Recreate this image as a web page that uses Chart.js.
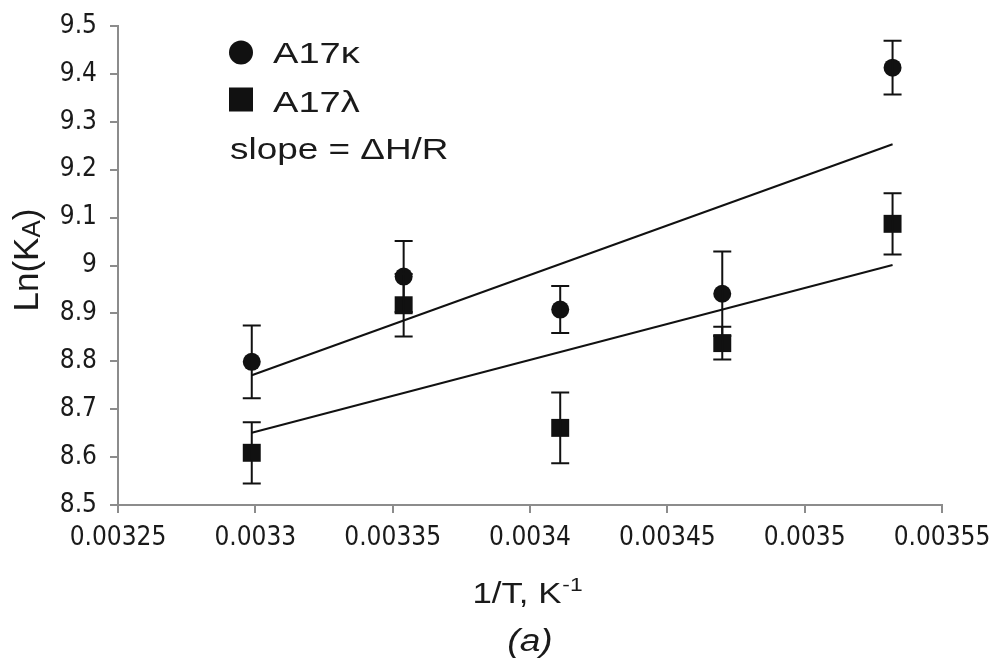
<!DOCTYPE html>
<html>
<head>
<meta charset="utf-8">
<script src="https://cdn.jsdelivr.net/npm/chart.js@4.4.1/dist/chart.umd.min.js"></script>
<style>
  html, body { margin: 0; background: #fff; }
  #wrap { width: 995px; height: 661px; }
</style>
</head>
<body>
<div id="wrap"><canvas id="myChart"></canvas></div>
<script>
// 1/T values (K^-1) for 30, 25, 20, 15, 10 °C
const X_VALUES = [0.0032987, 0.003354, 0.003411, 0.003470, 0.003532];
const KAPPA = [8.799, 8.977, 8.908, 8.941, 9.413];
const KAPPA_ERR = [0.076, 0.074, 0.049, 0.088, 0.056];
const LAMBDA = [8.609, 8.917, 8.661, 8.838, 9.087];
const LAMBDA_ERR = [0.064, 0.065, 0.074, 0.034, 0.064];
const FIT_X = [0.0032987, 0.003532];
const KAPPA_FIT = [8.771, 9.253];
const LAMBDA_FIT = [8.651, 9.001];
const X_TICKS = [0.00325, 0.0033, 0.00335, 0.0034, 0.00345, 0.0035, 0.00355];
const Y_TICKS = [8.5, 8.6, 8.7, 8.8, 8.9, 9, 9.1, 9.2, 9.3, 9.4, 9.5];

const INK = '#111';
const AXIS = '#8c8c8c';
const TEXT = '#1a1a1a';
const TICK_FONT = { family: '"DejaVu Sans Condensed", "DejaVu Sans"', size: 26, lineHeight: 1 };

function pts(xs, ys) {
  return xs.map((x, i) => ({ x: x, y: ys[i] }));
}

// text in the original is a bit wider than Arial, so stretch it sideways
function wideText(ctx, txt, x, y, sx) {
  ctx.save();
  ctx.translate(x, y);
  ctx.scale(sx, 1);
  ctx.fillText(txt, 0, 0);
  ctx.restore();
}

// error bars + legend + axis titles (sub/superscripts)
const extras = {
  id: 'extras',
  afterDatasetsDraw(chart) {
    const ctx = chart.ctx;
    const xs = chart.scales.x, ys = chart.scales.y;
    ctx.save();
    ctx.strokeStyle = INK;
    ctx.lineWidth = 2;
    chart.data.datasets.forEach(ds => {
      if (!ds.err) return;
      ds.data.forEach((p, i) => {
        const px = xs.getPixelForValue(p.x);
        const top = ys.getPixelForValue(p.y + ds.err[i]);
        const bot = ys.getPixelForValue(p.y - ds.err[i]);
        ctx.beginPath();
        ctx.moveTo(px, top); ctx.lineTo(px, bot);
        ctx.moveTo(px - 9, top); ctx.lineTo(px + 9, top);
        ctx.moveTo(px - 9, bot); ctx.lineTo(px + 9, bot);
        ctx.stroke();
      });
    });
    ctx.restore();
  },
  afterDraw(chart) {
    const ctx = chart.ctx;
    ctx.save();
    ctx.fillStyle = INK;
    // legend
    ctx.beginPath();
    ctx.arc(241, 52.5, 12, 0, Math.PI * 2);
    ctx.fill();
    ctx.fillRect(229, 87.5, 24, 24);
    ctx.fillStyle = TEXT;
    ctx.font = '30px "Liberation Sans"';
    ctx.textBaseline = 'alphabetic';
    ctx.textAlign = 'left';
    wideText(ctx, 'A17κ', 273, 63, 1.27);
    wideText(ctx, 'A17λ', 273, 112, 1.27);
    wideText(ctx, 'slope = ΔH/R', 230, 159, 1.23);

    // y title: Ln(KA) with subscript A
    const big = '35px "Liberation Sans"', small = '26px "Liberation Sans"';
    ctx.save();
    ctx.translate(38, 260);
    ctx.rotate(-Math.PI / 2);
    ctx.font = big;
    const w1 = ctx.measureText('Ln(K').width;
    const w3 = ctx.measureText(')').width;
    ctx.font = small;
    const w2 = ctx.measureText('A').width;
    let x0 = -(w1 + w2 + w3) / 2;
    ctx.font = big; ctx.fillText('Ln(K', x0, 0);
    ctx.font = small; ctx.fillText('A', x0 + w1, 2);
    ctx.font = big; ctx.fillText(')', x0 + w1 + w2, 0);
    ctx.restore();

    // x title: 1/T, K-1 with superscript
    const cx = 527;
    const sx = 1.2;
    const xb = '29px "Liberation Sans"', xsm = '19px "Liberation Sans"';
    ctx.font = xb;
    const a1 = ctx.measureText('1/T, K').width * sx;
    ctx.font = xsm;
    const a2 = ctx.measureText('-1').width * sx;
    const left = cx - (a1 + a2) / 2;
    ctx.font = xb; wideText(ctx, '1/T, K', left, 603, sx);
    ctx.font = xsm; wideText(ctx, '-1', left + a1 + 1, 591, sx);

    // panel caption
    ctx.font = 'italic 31px "Liberation Sans"';
    ctx.textAlign = 'center';
    wideText(ctx, '(a)', cx + 3, 651, 1.2);
    ctx.restore();
  }
};

const ctx = document.getElementById('myChart');

new Chart(ctx, {
  type: 'scatter',
  data: {
    datasets: [
      {
        label: 'A17κ',
        data: pts(X_VALUES, KAPPA),
        err: KAPPA_ERR,
        pointStyle: 'circle',
        pointRadius: 9,
        backgroundColor: INK,
        borderColor: INK,
        borderWidth: 0
      },
      {
        label: 'A17λ',
        data: pts(X_VALUES, LAMBDA),
        err: LAMBDA_ERR,
        pointStyle: 'rect',
        pointRadius: 12.7,
        backgroundColor: INK,
        borderColor: INK,
        borderWidth: 0
      },
      {
        label: 'fit κ',
        type: 'line',
        data: pts(FIT_X, KAPPA_FIT),
        borderColor: INK,
        borderWidth: 2,
        pointRadius: 0,
        fill: false
      },
      {
        label: 'fit λ',
        type: 'line',
        data: pts(FIT_X, LAMBDA_FIT),
        borderColor: INK,
        borderWidth: 2,
        pointRadius: 0,
        fill: false
      }
    ]
  },
  options: {
    responsive: true,
    maintainAspectRatio: false,
    animation: false,
    layout: { padding: { top: 25, right: 53, left: 0, bottom: 0 } },
    plugins: {
      legend: { display: false },
      tooltip: { enabled: false }
    },
    scales: {
      x: {
        type: 'linear',
        min: 0.00325,
        max: 0.00355,
        afterBuildTicks: s => { s.ticks = X_TICKS.map(v => ({ value: v })); },
        afterFit: s => { s.height = 156; s.paddingRight = 0; s.paddingLeft = 0; },
        ticks: {
          callback: v => String(+v.toFixed(5)),
          font: TICK_FONT,
          color: TEXT,
          padding: 12,
          maxRotation: 0,
          autoSkip: false
        },
        grid: { drawOnChartArea: false, tickLength: 8, color: AXIS, lineWidth: 2 },
        border: { color: AXIS, width: 2 }
      },
      y: {
        min: 8.5,
        max: 9.5,
        afterBuildTicks: s => { s.ticks = Y_TICKS.map(v => ({ value: v })); },
        afterFit: s => { s.width = 118; },
        ticks: {
          callback: v => String(+v.toFixed(1)),
          font: TICK_FONT,
          color: TEXT,
          padding: 13,
          autoSkip: false
        },
        grid: { drawOnChartArea: false, tickLength: 8, color: AXIS, lineWidth: 2 },
        border: { color: AXIS, width: 2 }
      }
    }
  },
  plugins: [extras]
});
</script>
</body>
</html>
